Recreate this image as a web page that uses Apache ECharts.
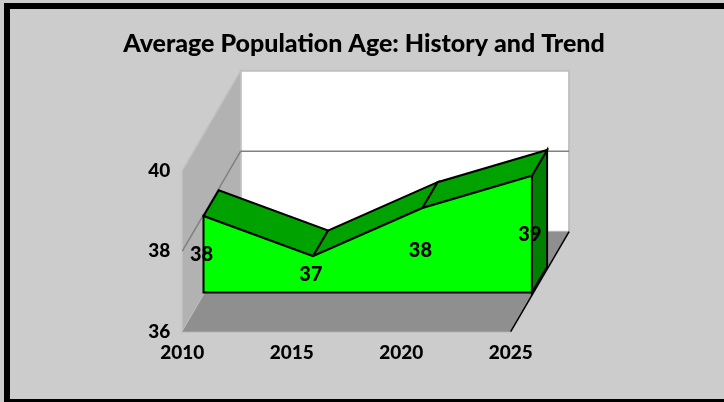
<!DOCTYPE html>
<html>
<head>
<meta charset="utf-8">
<style>html,body{margin:0;padding:0;background:#cccccc}#chart{width:724px;height:402px}</style>
<script src="https://cdn.jsdelivr.net/npm/echarts@6/dist/echarts.min.js"></script>
</head>
<body>
<div id="chart"></div>
<script>
var years = ['2010', '2015', '2020', '2025'];
var ages = [37.9, 36.9, 38.1, 38.9];
var yTicks = [36, 38, 40];
var ageLabels = ['38', '37', '38', '39'];

// fake 3d depth, in pixels
var wallDepth = [58.4, -100];
var areaOffset = [21.2, -39.2];
var areaDepth = [15.2, -25.8];
var fontName = 'Lato, "Open Sans", sans-serif';

function poly(points, fill, stroke, width) {
	return {
		type: 'polygon',
		shape: { points: points },
		style: { fill: fill, stroke: stroke || 'none', lineWidth: width || 0, lineJoin: 'miter' }
	};
}
function seg(a, b, color, width) {
	return {
		type: 'line',
		shape: { x1: a[0], y1: a[1], x2: b[0], y2: b[1] },
		style: { stroke: color, lineWidth: width }
	};
}
function shift(p, d) {
	return [p[0] + d[0], p[1] + d[1]];
}

// floor and walls hang off the axis corners
function renderWalls(params, api) {
	var last = years.length - 1;
	var fl = api.coord([0, yTicks[0]]);
	var fr = api.coord([last, yTicks[0]]);
	var tl = api.coord([0, yTicks[2]]);
	var ml = api.coord([0, yTicks[1]]);
	var bl = shift(fl, wallDepth), br = shift(fr, wallDepth);
	var btl = shift(tl, wallDepth), btr = [br[0], btl[1]];
	var bml = shift(ml, wallDepth), bmr = [br[0], bml[1]];
	return {
		type: 'group',
		children: [
			poly([btl, btr, br, bl], '#ffffff', '#bfbfbf', 2),
			poly([tl, btl, bl, fl], '#b2b2b2', '#c0c0c0', 1.5),
			poly([fl, bl, br, fr], '#8f8f8f'),
			seg(ml, bml, '#808080', 1.5),
			seg(bml, bmr, '#808080', 1.5),
			seg(fr, br, '#000000', 1.5)
		]
	};
}

function renderArea(params, api) {
	var front = [], back = [], children = [];
	for (var i = 0; i < years.length; i++) {
		front.push(shift(api.coord([i, ages[i]]), areaOffset));
		back.push(shift(front[i], areaDepth));
	}
	var base0 = shift(api.coord([0, yTicks[0]]), areaOffset);
	var baseN = shift(api.coord([years.length - 1, yTicks[0]]), areaOffset);
	var n = years.length - 1;
	// right side, then the top faces, then the front
	children.push(poly([front[n], back[n], shift(baseN, areaDepth), baseN], '#007f00', '#000000', 2));
	for (var j = 0; j < n; j++) {
		children.push(poly([front[j], back[j], back[j + 1], front[j + 1]], '#00a200', '#000000', 2));
	}
	children.push(poly([base0].concat(front, [baseN]), '#00ff00', '#000000', 2));
	for (var k = 0; k <= n; k++) {
		children.push({
			type: 'text',
			style: {
				x: front[k][0] - 2,
				y: (front[k][1] + base0[1]) / 2,
				text: ageLabels[k],
				fill: '#000000',
				font: '900 20px ' + fontName,
				align: 'center',
				verticalAlign: 'middle'
			}
		});
	}
	return { type: 'group', children: children };
}

var chart = echarts.init(document.getElementById('chart'), null, { renderer: 'canvas' });
chart.setOption({
	animation: false,
	backgroundColor: '#cccccc',
	title: {
		text: 'Average Population Age: History and Trend',
		left: 359,
		top: 26,
		textAlign: 'center',
		textStyle: { color: '#000000', fontFamily: fontName, fontWeight: 900, fontSize: 25 }
	},
	graphic: [
		{ type: 'rect', shape: { x: 4, y: 3, width: 720, height: 6 }, style: { fill: '#000000' } },
		{ type: 'rect', shape: { x: 4, y: 3, width: 6, height: 399 }, style: { fill: '#000000' } },
		{ type: 'rect', shape: { x: 4, y: 399, width: 720, height: 3 }, style: { fill: '#000000' } }
	],
	grid: { left: 182.3, top: 170.7, width: 328.4, height: 161 },
	xAxis: {
		type: 'category',
		data: years,
		boundaryGap: false,
		axisLine: { lineStyle: { color: '#bfbfbf', width: 1.5 } },
		axisTick: { show: false },
		axisLabel: { color: '#000000', fontFamily: fontName, fontWeight: 900, fontSize: 19, margin: 12 }
	},
	yAxis: {
		type: 'value',
		min: yTicks[0],
		max: yTicks[2],
		interval: 2,
		axisLine: { show: false },
		axisTick: { show: false },
		splitLine: { show: false },
		axisLabel: { color: '#000000', fontFamily: fontName, fontWeight: 900, fontSize: 19, margin: 12, padding: [6, 0, 0, 0] }
	},
	series: [
		{ type: 'custom', silent: true, z: 1, renderItem: renderWalls, data: [0], clip: false },
		{ type: 'custom', silent: true, z: 2, renderItem: renderArea, data: [0], clip: false }
	]
});
</script>
</body>
</html>
